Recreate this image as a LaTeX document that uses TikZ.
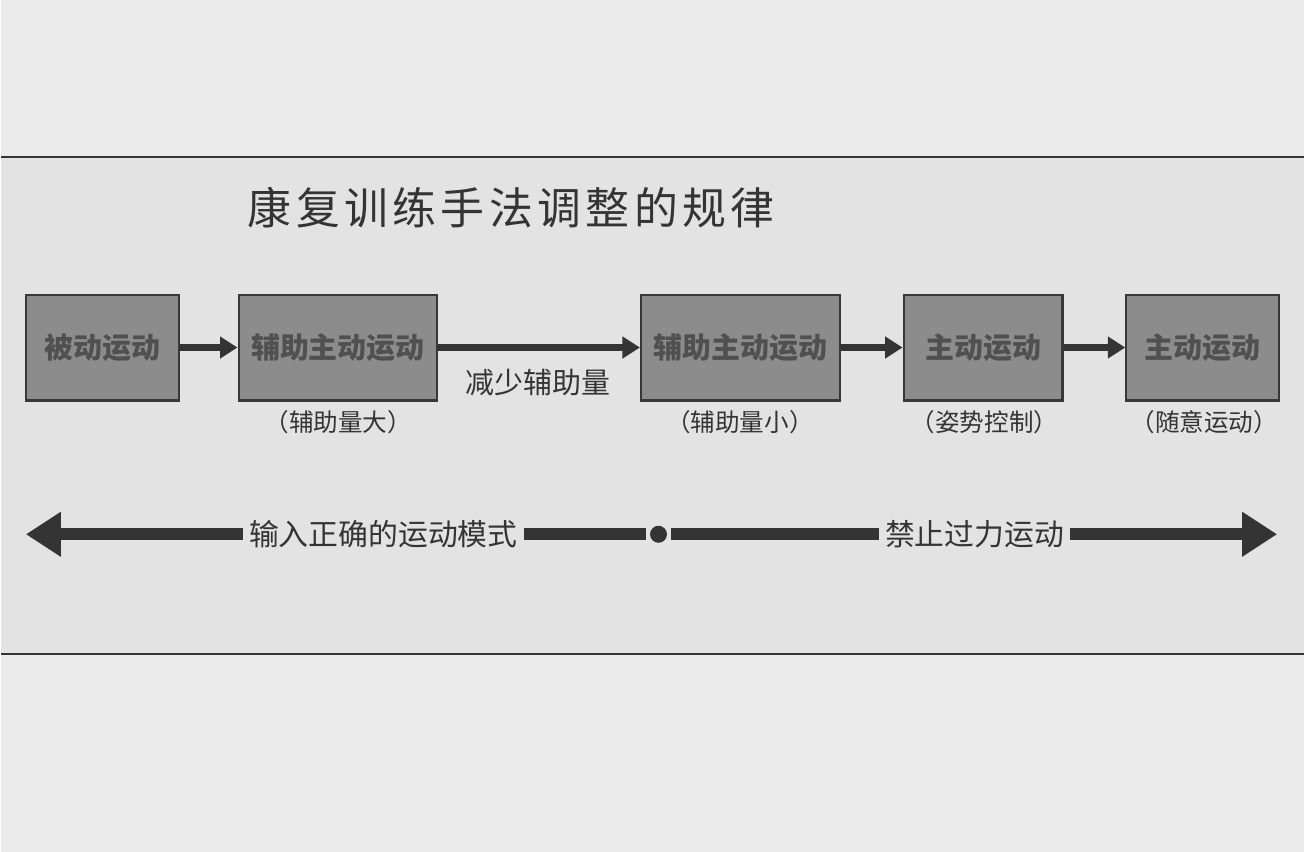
\documentclass[tikz,border=0pt]{standalone}
\usepackage{fontspec}
\newfontfamily\cjk{Noto Sans CJK SC}
\newfontfamily\cjktitle{Noto Sans CJK SC}[LetterSpace=10]
\usetikzlibrary{arrows.meta}
\definecolor{paper}{HTML}{EBEBEB}
\definecolor{band}{HTML}{E3E3E3}
\definecolor{boxfill}{HTML}{8C8C8C}
\definecolor{boxline}{HTML}{383838}
\definecolor{boxtext}{HTML}{505050}
\definecolor{ink}{HTML}{343434}

\begin{document}
\begin{tikzpicture}[
    stage/.style={draw=boxline, line width=1.2pt, fill=boxfill, minimum height=2.12cm,
      text=boxtext, font=\cjk\bfseries\fontsize{16.5}{18}\selectfont},
    note/.style={text=ink, font=\cjk\fontsize{14}{16}\selectfont},
    flow/.style={draw=ink, line width=1.5mm, -{Triangle[length=3.5mm,width=4.2mm]}},
    rule/.style={draw=ink, line width=2.4mm},
    words/.style={text=ink, inner sep=0.12cm, font=\cjk\fontsize{17}{19}\selectfont}]

    % Background and band
    \fill[paper] (0,0) rectangle (26.1,17.06);
    \fill[band] (0,3.96) rectangle (26.1,13.92);
    \draw[ink, line width=1pt] (0,13.92) -- (26.1,13.92);
    \draw[ink, line width=1pt] (0,3.96) -- (26.1,3.96);

    % Title
    \node[text=ink, font=\cjktitle\fontsize{25}{28}\selectfont] (title) at (10.22,12.9) {康复训练手法调整的规律};

    % Stages
    \node[stage, minimum width=3.06cm] (s1) at (2.03,10.1) {被动运动};
    \node[stage, minimum width=3.98cm] (s2) at (6.75,10.1) {辅助主动运动};
    \node[stage, minimum width=3.98cm] (s3) at (14.81,10.1) {辅助主动运动};
    \node[stage, minimum width=3.18cm] (s4) at (19.67,10.1) {主动运动};
    \node[stage, minimum width=3.06cm] (s5) at (24.07,10.1) {主动运动};

    % Notes under the stages
    \node[note] (n2) at (6.76,8.6) {（辅助量大）};
    \node[note] (n3) at (14.8,8.6) {（辅助量小）};
    \node[note] (n4) at (19.7,8.6) {（姿势控制）};
    \node[note] (n5) at (24.1,8.6) {（随意运动）};
    \node[note, font=\cjk\fontsize{16.5}{18}\selectfont] (less) at (10.76,9.4) {减少辅助量};

    % Steps
    \draw[flow] (s1) -- (s2);
    \draw[flow] (s2) -- (s3);
    \draw[flow] (s3) -- (s4);
    \draw[flow] (s4) -- (s5);

    % Bottom double arrow
    \coordinate (lend) at (0.5,6.36);
    \coordinate (rend) at (25.56,6.36);
    \node[words] (input) at (7.66,6.36) {输入正确的运动模式};
    \node[circle, fill=ink, minimum size=0.34cm, inner sep=0pt, outer sep=0.08cm] (mid) at (13.17,6.36) {};
    \node[words] (stop) at (19.5,6.36) {禁止过力运动};

    \draw[rule, -{Triangle[length=7mm,width=8.5mm]}] (input.west) -- (lend);
    \draw[rule] (input.east) -- (mid);
    \draw[rule] (mid) -- (stop.west);
    \draw[rule, -{Triangle[length=7mm,width=8.5mm]}] (stop.east) -- (rend);

\end{tikzpicture}
\end{document}
